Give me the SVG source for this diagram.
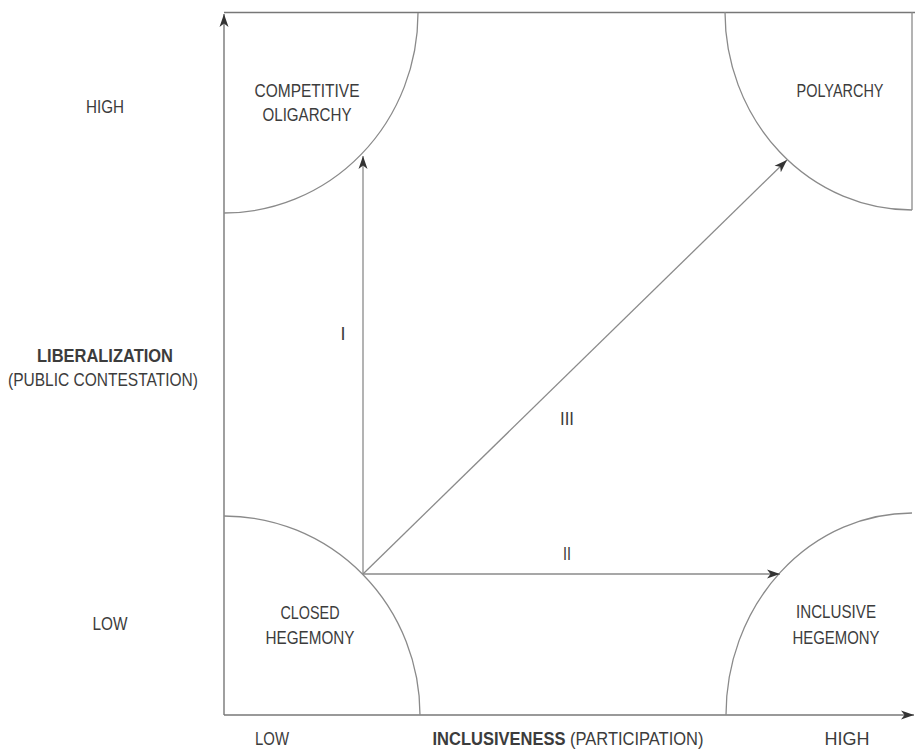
<svg xmlns="http://www.w3.org/2000/svg" width="915" height="750" viewBox="0 0 915 750">
<style>
.ln{fill:none;stroke:#8a8a8a;stroke-width:1.3}
.ax{fill:none;stroke:#777;stroke-width:1.4}
.t{font-family:"Liberation Sans",Arial,sans-serif;font-size:18px;fill:#3c3c3c;text-anchor:middle}
.b{font-weight:bold}
</style>
<defs>
<marker id="ah" markerUnits="userSpaceOnUse" markerWidth="14" markerHeight="10" refX="13" refY="5" orient="auto">
<path d="M0,0.5 L13,5 L0,9.5 L3.5,5 Z" fill="#333"/>
</marker>
</defs>
<rect width="915" height="750" fill="#fff"/>
<g id="frame">
<line class="ax" x1="224" y1="12.5" x2="915" y2="12.5"/>
<line class="ln" x1="912" y1="12" x2="912" y2="210" stroke="#bbb"/>
</g>
<g id="axes">
<line class="ax" x1="224" y1="715" x2="224" y2="14" marker-end="url(#ah)"/>
<line class="ax" x1="224" y1="715" x2="914" y2="715" marker-end="url(#ah)"/>
</g>
<g id="competitive-oligarchy">
<path class="ln" d="M418,13 A194,200 0 0 1 224,213"/>
<text class="t" x="307" y="97" textLength="105" lengthAdjust="spacingAndGlyphs">COMPETITIVE</text>
<text class="t" x="307" y="121" textLength="89" lengthAdjust="spacingAndGlyphs">OLIGARCHY</text>
</g>
<g id="polyarchy">
<path class="ln" d="M725,12 A187,198 0 0 0 912,210"/>
<text class="t" x="840" y="97" textLength="87" lengthAdjust="spacingAndGlyphs">POLYARCHY</text>
</g>
<g id="closed-hegemony">
<path class="ln" d="M224,516 A196,199 0 0 1 420,715"/>
<text class="t" x="310" y="619" textLength="59" lengthAdjust="spacingAndGlyphs">CLOSED</text>
<text class="t" x="310" y="644" textLength="89" lengthAdjust="spacingAndGlyphs">HEGEMONY</text>
</g>
<g id="inclusive-hegemony">
<path class="ln" d="M726,715 A186,202 0 0 1 912,513"/>
<text class="t" x="836" y="618" textLength="80" lengthAdjust="spacingAndGlyphs">INCLUSIVE</text>
<text class="t" x="836" y="644" textLength="87" lengthAdjust="spacingAndGlyphs">HEGEMONY</text>
</g>
<g id="connectors">
<line class="ln" x1="363" y1="574" x2="363" y2="156" marker-end="url(#ah)"/>
<line class="ln" x1="363" y1="574" x2="780" y2="574" marker-end="url(#ah)"/>
<line class="ln" x1="363" y1="574" x2="787" y2="160" marker-end="url(#ah)"/>
<text class="t" x="343" y="340">I</text>
<text class="t" x="567" y="560" textLength="8" lengthAdjust="spacingAndGlyphs">II</text>
<text class="t" x="567" y="425" textLength="14" lengthAdjust="spacingAndGlyphs">III</text>
</g>
<g id="labels">
<text class="t" x="105" y="113" textLength="38" lengthAdjust="spacingAndGlyphs">HIGH</text>
<text class="t" x="110" y="630" textLength="35" lengthAdjust="spacingAndGlyphs">LOW</text>
<text class="t b" x="105" y="362" textLength="136" lengthAdjust="spacingAndGlyphs">LIBERALIZATION</text>
<text class="t" x="103" y="386" textLength="190" lengthAdjust="spacingAndGlyphs">(PUBLIC CONTESTATION)</text>
<text class="t" x="272" y="745" textLength="34" lengthAdjust="spacingAndGlyphs">LOW</text>
<text class="t" x="568" y="745" textLength="271" lengthAdjust="spacingAndGlyphs"><tspan class="b">INCLUSIVENESS</tspan> (PARTICIPATION)</text>
<text class="t" x="847" y="745" textLength="45" lengthAdjust="spacingAndGlyphs">HIGH</text>
</g>
</svg>
